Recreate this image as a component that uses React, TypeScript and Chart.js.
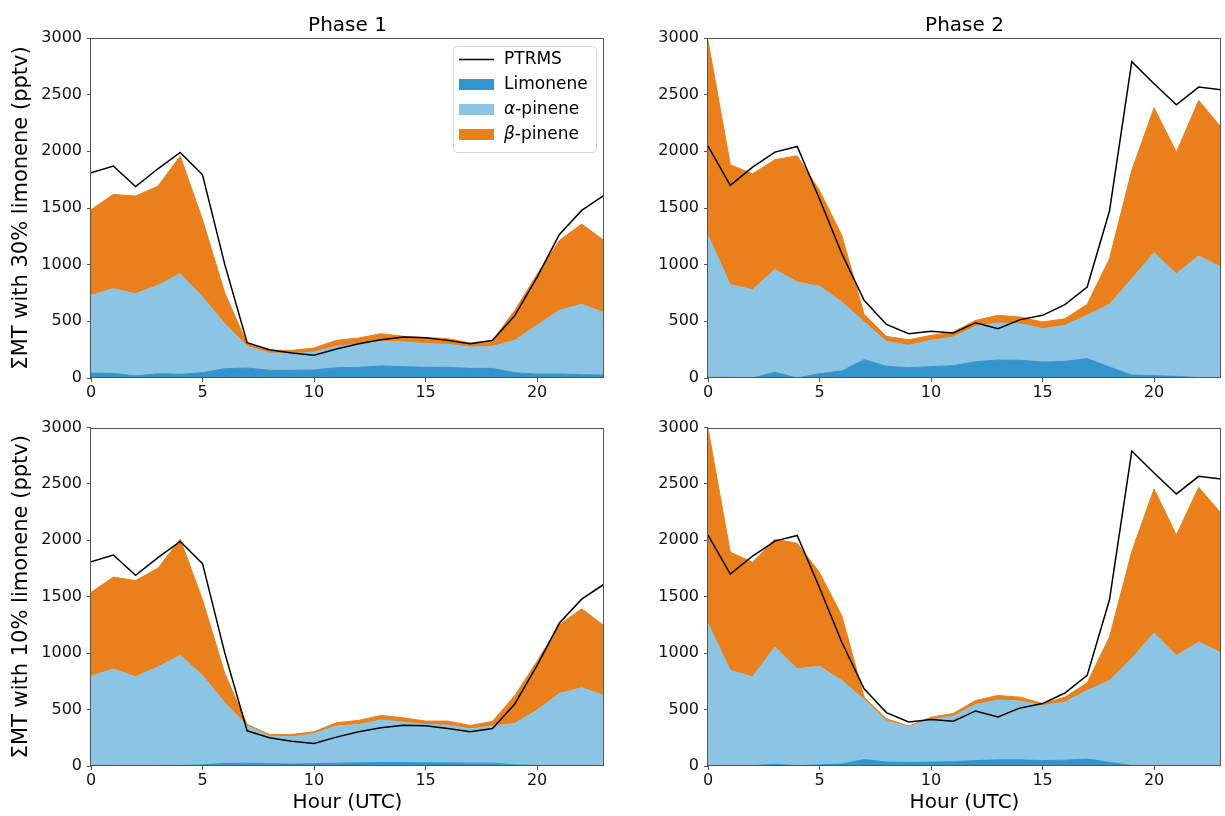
import React, { useEffect, useRef } from 'react';
import { Chart, registerables } from 'chart.js';

Chart.register(...registerables);

// ---------- DATA ----------
const HOURS = [0, 1, 2, 3, 4, 5, 6, 7, 8, 9, 10, 11, 12, 13, 14, 15, 16, 17, 18, 19, 20, 21, 22, 23];
const X_TICKS = [0, 5, 10, 15, 20];
const Y_TICKS = [0, 500, 1000, 1500, 2000, 2500, 3000];

const PANEL_TITLES = ['Phase 1', 'Phase 2'];
const ROW_LABELS = ['ΣMT with 30% limonene (pptv)', 'ΣMT with 10% limonene (pptv)'];
const X_LABEL = 'Hour (UTC)';
const SERIES_NAMES = ['PTRMS', 'Limonene', 'α-pinene', 'β-pinene'];

// PTR-MS total monoterpenes
const PTRMS_P1 = [1811, 1870, 1690, 1846, 1990, 1793, 1000, 312, 250, 220, 200, 256, 303, 338, 362, 356, 332, 303, 332, 550, 891, 1267, 1479, 1611];
const PTRMS_P2 = [2047, 1700, 1861, 1993, 2043, 1580, 1097, 685, 473, 391, 412, 397, 488, 435, 515, 553, 647, 803, 1473, 2791, 2597, 2411, 2567, 2543];

// Phase 1, 30% limonene
const LIM_P1_30 = [44, 41, 18, 38, 32, 47, 82, 88, 68, 68, 71, 91, 94, 106, 100, 94, 94, 85, 85, 47, 35, 35, 29, 26];
const APIN_P1_30 = [685, 747, 726, 779, 888, 667, 397, 191, 152, 147, 158, 188, 209, 220, 218, 209, 203, 188, 194, 285, 430, 562, 621, 550];
const BPIN_P1_30 = [756, 832, 861, 876, 1038, 683, 271, 24, 24, 29, 36, 53, 50, 65, 50, 53, 50, 36, 53, 265, 449, 617, 708, 638];

// Phase 2, 30% limonene
const LIM_P2_30 = [5, 6, 0, 50, 0, 38, 62, 162, 103, 91, 100, 109, 144, 159, 156, 141, 147, 171, 97, 26, 21, 15, 3, 3];
const APIN_P2_30 = [1253, 817, 779, 906, 847, 771, 608, 332, 220, 197, 232, 253, 312, 326, 323, 294, 318, 382, 553, 850, 1084, 905, 1073, 976];
const BPIN_P2_30 = [1720, 1059, 1023, 970, 1114, 846, 588, 68, 44, 50, 44, 44, 53, 68, 59, 59, 58, 97, 403, 956, 1279, 1073, 1373, 1235];

// Phase 1, 10% limonene
const LIM_P1_10 = [5, 5, 3, 5, 5, 10, 22, 25, 20, 18, 20, 25, 28, 30, 30, 28, 28, 25, 25, 10, 5, 5, 5, 5];
const APIN_P1_10 = [791, 855, 787, 873, 976, 792, 538, 329, 245, 241, 266, 329, 340, 377, 359, 340, 334, 305, 329, 367, 490, 637, 688, 620];
const BPIN_P1_10 = [742, 814, 854, 875, 1029, 671, 259, 14, 15, 21, 18, 29, 36, 41, 38, 30, 36, 30, 41, 248, 433, 610, 701, 619];

// Phase 2, 10% limonene
const LIM_P2_10 = [3, 3, 3, 15, 3, 10, 18, 58, 35, 32, 35, 38, 48, 55, 55, 48, 52, 62, 33, 5, 3, 3, 3, 3];
const APIN_P2_10 = [1258, 843, 787, 1040, 858, 874, 739, 531, 363, 316, 378, 404, 497, 529, 520, 488, 514, 607, 724, 947, 1176, 975, 1096, 999];
const BPIN_P2_10 = [1730, 1049, 1016, 955, 1113, 831, 575, 21, 20, 6, 20, 24, 36, 41, 35, 18, 44, 68, 386, 948, 1276, 1070, 1371, 1238];

// ---------- STYLE ----------
const FONT = '"DejaVu Sans", "Liberation Sans", sans-serif';
const COL_PTRMS = '#000000';
const COL_LIM = '#3594cc';
const COL_APIN = '#8cc5e3';
const COL_BPIN = '#ea801c';
const SPINE = '#555555';

type Panel = {
  left: number; top: number; width: number; height: number;
  title?: string; yTitle?: string; xTitle?: string;
  yAxisWidth: number; xAxisHeight: number;
  padding: { top: number; right: number; bottom: number; left: number };
  legend: boolean;
  ptrms: number[]; lim: number[]; apin: number[]; bpin: number[];
};

const PANELS: Panel[] = [
  { left: 0, top: 0, width: 612, height: 400, title: PANEL_TITLES[0], yTitle: ROW_LABELS[0], yAxisWidth: 91, xAxisHeight: 22,
    padding: { top: 38, right: 8, bottom: 0, left: 0 }, legend: true, ptrms: PTRMS_P1, lim: LIM_P1_30, apin: APIN_P1_30, bpin: BPIN_P1_30 },
  { left: 612, top: 0, width: 613, height: 400, title: PANEL_TITLES[1], yAxisWidth: 96, xAxisHeight: 22,
    padding: { top: 38, right: 4, bottom: 0, left: 0 }, legend: false, ptrms: PTRMS_P2, lim: LIM_P2_30, apin: APIN_P2_30, bpin: BPIN_P2_30 },
  { left: 0, top: 400, width: 612, height: 416, yTitle: ROW_LABELS[1], xTitle: X_LABEL, yAxisWidth: 91, xAxisHeight: 50,
    padding: { top: 27.5, right: 8, bottom: 0, left: 0 }, legend: false, ptrms: PTRMS_P1, lim: LIM_P1_10, apin: APIN_P1_10, bpin: BPIN_P1_10 },
  { left: 612, top: 400, width: 613, height: 416, xTitle: X_LABEL, yAxisWidth: 96, xAxisHeight: 50,
    padding: { top: 27.5, right: 4, bottom: 0, left: 0 }, legend: false, ptrms: PTRMS_P2, lim: LIM_P2_10, apin: APIN_P2_10, bpin: BPIN_P2_10 },
];

// ---------- PLUGINS ----------
const framePlugin = {
  id: 'frame',
  afterDatasetsDraw(chart: any) {
    const { ctx, chartArea } = chart;
    const l = Math.round(chartArea.left) - 0.5;
    const t = Math.round(chartArea.top) + 0.5;
    const r = Math.round(chartArea.right) - 0.5;
    const b = Math.round(chartArea.bottom) - 0.5;
    ctx.save();
    ctx.strokeStyle = SPINE;
    ctx.lineWidth = 1;
    ctx.strokeRect(l, t, r - l, b - t);
    ctx.restore();
  },
};

const titlePlugin = {
  id: 'panelTitle',
  afterDraw(chart: any, _args: any, opts: any) {
    if (!opts || !opts.text) return;
    const { ctx, chartArea } = chart;
    ctx.save();
    ctx.font = `20px ${FONT}`;
    ctx.fillStyle = '#000';
    ctx.textAlign = 'center';
    ctx.textBaseline = 'alphabetic';
    ctx.fillText(opts.text, (chartArea.left + chartArea.right) / 2, 31);
    ctx.restore();
  },
};

const boxLegendPlugin = {
  id: 'boxLegend',
  afterDraw(chart: any, _args: any, opts: any) {
    if (!opts || !opts.show) return;
    const { ctx, chartArea } = chart;
    const x0 = chartArea.right - 151;
    const y0 = chartArea.top + 8;
    const w = 143;
    const h = 106;
    ctx.save();
    ctx.beginPath();
    if (ctx.roundRect) ctx.roundRect(x0 + 0.5, y0 + 0.5, w, h, 4);
    else ctx.rect(x0 + 0.5, y0 + 0.5, w, h);
    ctx.fillStyle = 'rgba(255,255,255,0.85)';
    ctx.fill();
    ctx.strokeStyle = '#d6d6d6';
    ctx.lineWidth = 1;
    ctx.stroke();

    const ds = chart.data.datasets;
    const hx0 = chartArea.right - 145;
    const hx1 = chartArea.right - 110;
    const tx = chartArea.right - 100;
    for (let i = 0; i < ds.length; i++) {
      const cy = chartArea.top + 21.5 + i * 25;
      const d = ds[i];
      if (i === 0) {
        ctx.strokeStyle = d.borderColor;
        ctx.lineWidth = 1.5;
        ctx.beginPath();
        ctx.moveTo(hx0, cy);
        ctx.lineTo(hx1, cy);
        ctx.stroke();
      } else {
        ctx.fillStyle = d.backgroundColor;
        ctx.fillRect(hx0, cy - 5.5, hx1 - hx0, 11);
      }
      const label: string = d.label;
      ctx.fillStyle = '#000';
      ctx.textBaseline = 'middle';
      ctx.textAlign = 'left';
      const first = label.charAt(0);
      if (first === 'α' || first === 'β') {
        ctx.font = `italic 17px ${FONT}`;
        ctx.fillText(first, tx, cy);
        const wFirst = ctx.measureText(first).width;
        ctx.font = `17px ${FONT}`;
        ctx.fillText(label.slice(1), tx + wFirst, cy);
      } else {
        ctx.font = `17px ${FONT}`;
        ctx.fillText(label, tx, cy);
      }
    }
    ctx.restore();
  },
};

function toXY(vals: number[]) {
  return HOURS.map((h, i) => ({ x: h, y: vals[i] }));
}

function makeConfig(p: Panel): any {
  const datasets = [
    { label: SERIES_NAMES[0], data: toXY(p.ptrms), stack: 'ptrms', borderColor: COL_PTRMS, backgroundColor: COL_PTRMS,
      borderWidth: 1.5, fill: false, pointRadius: 0, tension: 0 },
    { label: SERIES_NAMES[1], data: toXY(p.lim), stack: 'mt', borderColor: COL_LIM, backgroundColor: COL_LIM,
      borderWidth: 1, fill: 'origin', pointRadius: 0, tension: 0 },
    { label: SERIES_NAMES[2], data: toXY(p.apin), stack: 'mt', borderColor: COL_APIN, backgroundColor: COL_APIN,
      borderWidth: 1, fill: '-1', pointRadius: 0, tension: 0 },
    { label: SERIES_NAMES[3], data: toXY(p.bpin), stack: 'mt', borderColor: COL_BPIN, backgroundColor: COL_BPIN,
      borderWidth: 1, fill: '-1', pointRadius: 0, tension: 0 },
  ];
  return {
    type: 'line',
    data: { datasets },
    plugins: [framePlugin, titlePlugin, boxLegendPlugin],
    options: {
      animation: false,
      responsive: false,
      devicePixelRatio: 1,
      layout: { padding: p.padding },
      plugins: {
        legend: { display: false },
        tooltip: { enabled: false },
        title: { display: false },
        panelTitle: { text: p.title || '' },
        boxLegend: { show: p.legend },
      },
      scales: {
        x: {
          type: 'linear',
          min: HOURS[0],
          max: HOURS[HOURS.length - 1],
          stacked: false,
          afterFit: (s: any) => { s.height = p.xAxisHeight; },
          afterBuildTicks: (s: any) => { s.ticks = X_TICKS.map((v) => ({ value: v })); },
          ticks: { font: { size: 16, family: FONT }, color: '#111', padding: 1, maxRotation: 0, autoSkip: false,
            callback: (v: any) => String(v) },
          grid: { display: true, drawOnChartArea: false, drawTicks: true, tickLength: 4, color: SPINE },
          border: { display: false },
          title: p.xTitle ? { display: true, text: p.xTitle, font: { size: 20, family: FONT }, color: '#000', padding: { top: 0, bottom: 1 } } : { display: false },
        },
        y: {
          type: 'linear',
          min: 0,
          max: 3000,
          stacked: true,
          afterFit: (s: any) => { s.width = p.yAxisWidth; },
          afterBuildTicks: (s: any) => { s.ticks = Y_TICKS.map((v) => ({ value: v })); },
          ticks: { font: { size: 16, family: FONT }, color: '#111', padding: 5, autoSkip: false,
            callback: (v: any) => String(v) },
          grid: { display: true, drawOnChartArea: false, drawTicks: true, tickLength: 4, color: SPINE },
          border: { display: false },
          title: p.yTitle ? { display: true, text: p.yTitle, font: { size: 21, family: FONT }, color: '#000', padding: { top: 9, bottom: 0 } } : { display: false },
        },
      },
    },
  };
}

function PanelChart({ p }: { p: Panel }) {
  const ref = useRef<HTMLCanvasElement | null>(null);
  useEffect(() => {
    if (!ref.current) return;
    const chart = new Chart(ref.current, makeConfig(p));
    return () => chart.destroy();
  }, [p]);
  return (
    <canvas
      ref={ref}
      width={p.width}
      height={p.height}
      style={{ position: 'absolute', left: p.left, top: p.top, width: p.width, height: p.height }}
    />
  );
}

export default function App() {
  return (
    <div style={{ position: 'absolute', left: 0, top: 0, width: 1225, height: 816, background: '#fff', overflow: 'hidden' }}>
      {PANELS.map((p, i) => (
        <PanelChart key={i} p={p} />
      ))}
    </div>
  );
}
